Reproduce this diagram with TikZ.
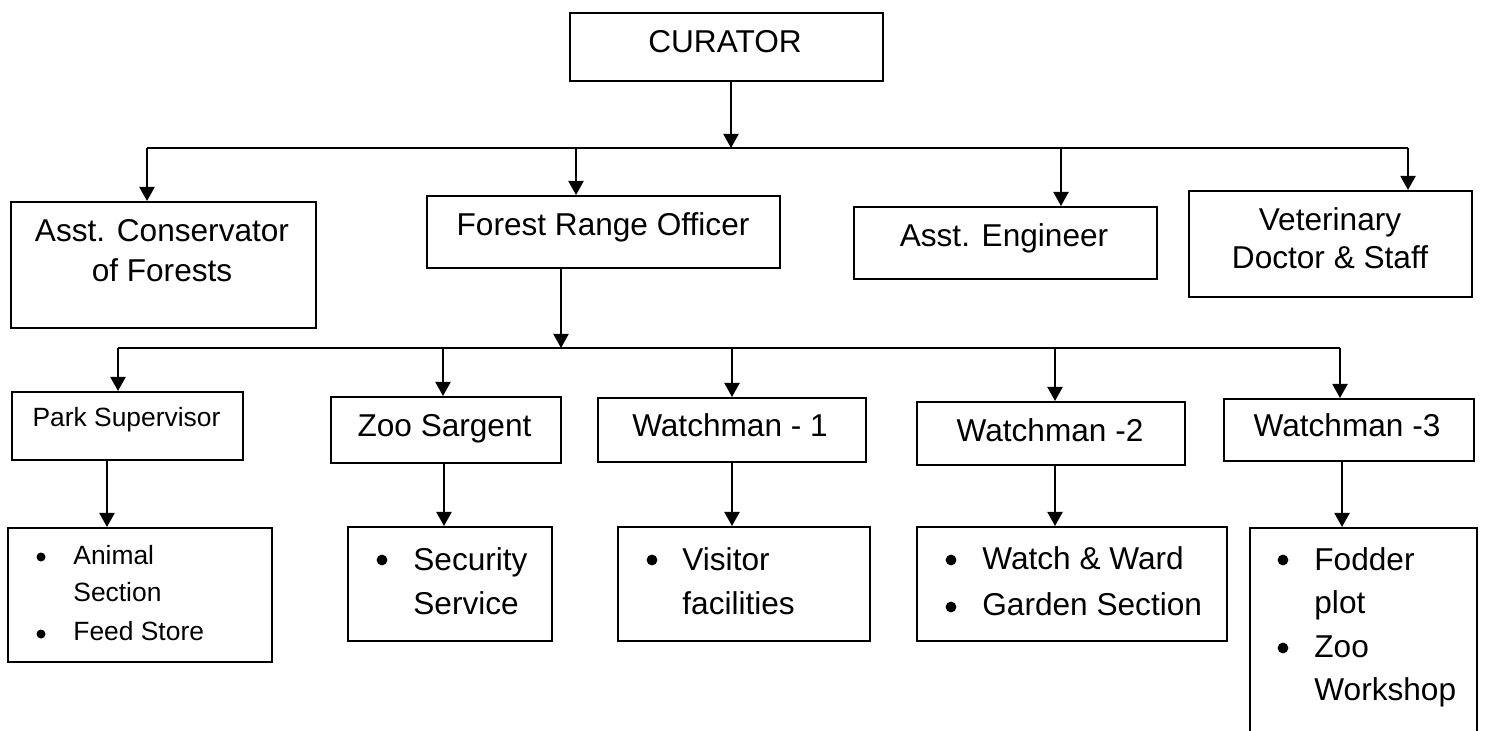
\documentclass[tikz,border=0pt]{standalone}
\usepackage{fontspec}
\setmainfont{Liberation Sans}
\usetikzlibrary{arrows.meta}
\tikzset{
  box/.style={draw, line width=1pt, rectangle, inner sep=0pt},
  txt/.style={inner sep=0pt, font=\fontsize{15.8}{19}\selectfont},
  stxt/.style={inner sep=0pt, font=\fontsize{13.2}{16}\selectfont},
  dot/.style={circle, fill=black, draw=none, inner sep=0pt, minimum size=5.4pt},
  sdot/.style={circle, fill=black, draw=none, inner sep=0pt, minimum size=4.5pt},
  wire/.style={line width=1pt},
  arr/.style={line width=1pt, -{Triangle[width=7.5pt,length=7pt]}},
}
\newcommand{\orgbox}[5]{\node[box, anchor=north west, minimum width={(#4-#2)*0.5pt}, minimum height={(#5-#3)*0.5pt}] (#1) at (#2,#3) {};}
\begin{document}
\begin{tikzpicture}[x=0.5pt,y=-0.5pt]
\useasboundingbox (0,0) rectangle (1498,731);
\fill[white] (0,0) rectangle (1498,731);
\clip (0,0) rectangle (1498,731);
% boxes
\orgbox{cur}{569}{12}{882}{80}
\orgbox{acf}{10}{201}{315}{327}
\orgbox{fro}{426}{195}{779}{267}
\orgbox{eng}{853}{206}{1156}{278}
\orgbox{vet}{1188}{190}{1471}{296}
\orgbox{park}{11}{391}{242}{459}
\orgbox{zoo}{330}{396}{560}{462}
\orgbox{wa}{597}{397}{865}{461}
\orgbox{wb}{916}{401}{1184}{464}
\orgbox{wc}{1223}{398}{1473}{460}
\orgbox{ani}{7}{527}{271}{661}
\orgbox{sec}{347}{526}{551}{640}
\orgbox{vis}{617}{526}{869}{640}
\orgbox{ww}{916}{526}{1226}{640}
\orgbox{fod}{1249}{527}{1476}{780}
% texts
\node[txt, anchor=base] (t-cur) at (725,53) {CURATOR};
\node[txt, anchor=base] (t-acf1) at (162,242) {Asst. Conservator};
\node[txt, anchor=base] (t-acf2) at (162,282) {of Forests};
\node[txt, anchor=base] (t-fro) at (603,236) {Forest Range Officer};
\node[txt, anchor=base] (t-eng) at (1004,247) {Asst. Engineer};
\node[txt, anchor=base] (t-vet1) at (1330,231) {Veterinary};
\node[txt, anchor=base] (t-vet2) at (1330,269) {Doctor \& Staff};
\node[stxt, anchor=base] (t-park) at (126.5,427) {Park Supervisor};
\node[txt, anchor=base] (t-zoo) at (444.5,437) {Zoo Sargent};
\node[txt, anchor=base] (t-wa) at (730,437) {Watchman - 1};
\node[txt, anchor=base] (t-wb) at (1050,442) {Watchman -2};
\node[txt, anchor=base] (t-wc) at (1347,437) {Watchman -3};
% bullet lists
\node[sdot] (b-ani1) at (41,557) {};
\node[sdot] (b-ani2) at (41,634) {};
\node[stxt, anchor=base west] (l-ani1) at (73,564) {Animal};
\node[stxt, anchor=base west] (l-ani2) at (73,601) {Section};
\node[stxt, anchor=base west] (l-ani3) at (73,640) {Feed Store};
\node[dot] (b-sec1) at (382,560) {};
\node[txt, anchor=base west] (l-sec1) at (413,570) {Security};
\node[txt, anchor=base west] (l-sec2) at (413,614) {Service};
\node[dot] (b-vis1) at (652,560) {};
\node[txt, anchor=base west] (l-vis1) at (682,570) {Visitor};
\node[txt, anchor=base west] (l-vis2) at (682,614) {facilities};
\node[dot] (b-ww1) at (951,560) {};
\node[dot] (b-ww2) at (951,607) {};
\node[txt, anchor=base west] (l-ww1) at (982,569) {Watch \& Ward};
\node[txt, anchor=base west] (l-ww2) at (982,615) {Garden Section};
\node[dot] (b-fod1) at (1283,560) {};
\node[dot] (b-fod2) at (1283,648) {};
\node[txt, anchor=base west] (l-fod1) at (1314,570) {Fodder};
\node[txt, anchor=base west] (l-fod2) at (1314,613) {plot};
\node[txt, anchor=base west] (l-fod3) at (1314,657) {Zoo};
\node[txt, anchor=base west] (l-fod4) at (1314,700) {Workshop};
% junctions
\coordinate (c1) at (731,148);
\coordinate (ja) at (147,148);
\coordinate (jb) at (576,148);
\coordinate (jc) at (1061,148);
\coordinate (jd) at (1408,148);
\coordinate (c2) at (561,348);
\coordinate (ka) at (118,348);
\coordinate (kb) at (443,348);
\coordinate (kc) at (732,348);
\coordinate (kd) at (1055,348);
\coordinate (ke) at (1340,348);
% level 1
\draw[arr] (cur.south -| c1) -- (c1);
\draw[wire] (ja) -- (jd);
\draw[arr] (ja) -- (ja |- acf.north);
\draw[arr] (jb) -- (jb |- fro.north);
\draw[arr] (jc) -- (jc |- eng.north);
\draw[arr] (jd) -- (jd |- vet.north);
% level 2
\draw[arr] (fro.south -| c2) -- (c2);
\draw[wire] (ka) -- (ke);
\draw[arr] (ka) -- (ka |- park.north);
\draw[arr] (kb) -- (kb |- zoo.north);
\draw[arr] (kc) -- (kc |- wa.north);
\draw[arr] (kd) -- (kd |- wb.north);
\draw[arr] (ke) -- (ke |- wc.north);
% level 3
\coordinate (m1) at (107,0);
\coordinate (m2) at (444,0);
\coordinate (m3) at (732,0);
\coordinate (m4) at (1055,0);
\coordinate (m5) at (1342,0);
\draw[arr] (park.south -| m1) -- (ani.north -| m1);
\draw[arr] (zoo.south -| m2) -- (sec.north -| m2);
\draw[arr] (wa.south -| m3) -- (vis.north -| m3);
\draw[arr] (wb.south -| m4) -- (ww.north -| m4);
\draw[arr] (wc.south -| m5) -- (fod.north -| m5);
\end{tikzpicture}
\end{document}
